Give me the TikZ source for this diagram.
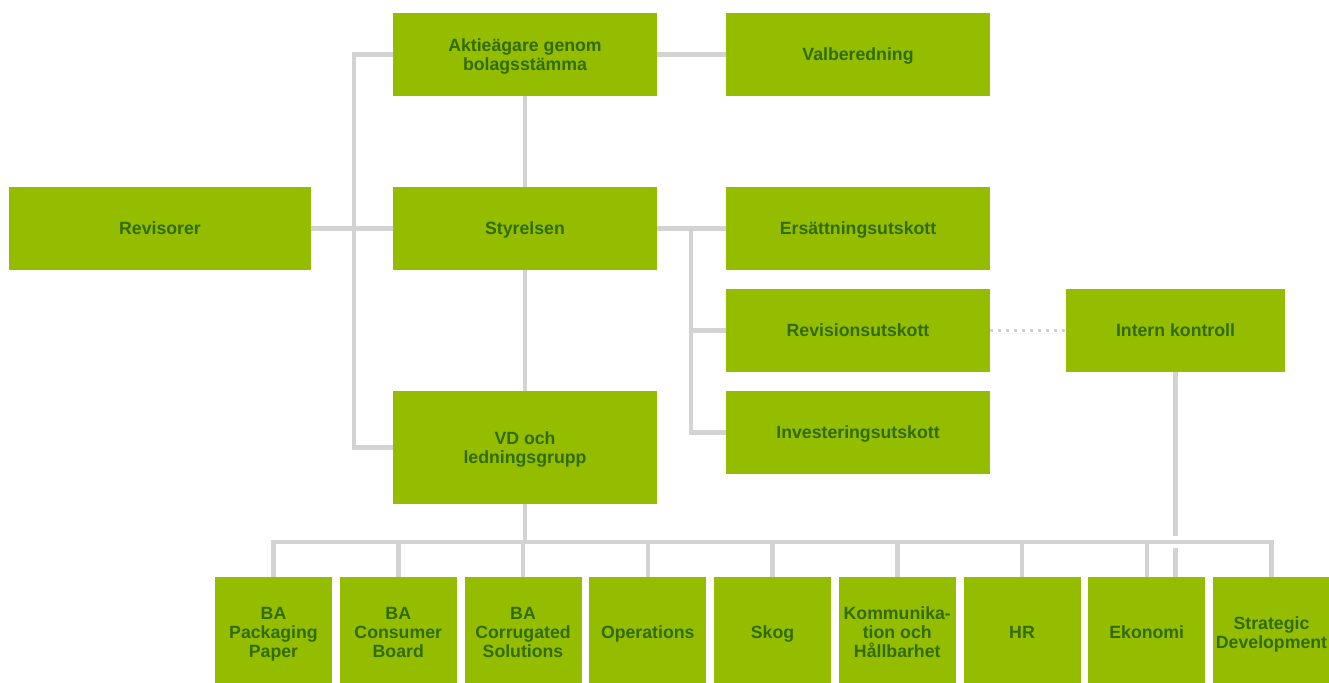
\documentclass[tikz,border=0pt]{standalone}
\usepackage{fontspec}
\setmainfont{Liberation Sans}
\usetikzlibrary{positioning,calc}
\definecolor{boxgreen}{RGB}{148,189,0}
\definecolor{textgreen}{RGB}{50,108,0}
\definecolor{linegray}{RGB}{211,211,211}

\begin{document}
\begin{tikzpicture}[x=1pt, y=-1pt, every text node part/.style={align=center},
  box/.style={fill=boxgreen, text=textgreen, font=\fontsize{17.7}{19}\selectfont\bfseries, inner sep=0pt, outer sep=0pt, text depth=-3pt, minimum width=264pt, minimum height=83pt},
  unit/.style={box, minimum width=117pt, minimum height=111pt},
  conn/.style={draw=linegray, line width=4.5pt},
  dots/.style={draw=linegray, line width=3pt, dash pattern=on 3pt off 5pt}]
 \useasboundingbox (0,0) rectangle (1329,682);

 \node[box](aktie) at (525,54.5) {Aktieägare genom\\bolagsstämma};
 \node[box](valberedning) at (858,54.5) {Valberedning};
 \node[box](styrelsen) at (525,228.5) {Styrelsen};
 \node[box, minimum width=302pt](revisorer) at (160,228.5) {Revisorer};
 \node[box, minimum height=113pt](vd) at (525,447.5) {VD och\\ledningsgrupp};

 \node[box](ersattning) at (858,228.5) {Ersättningsutskott};
 \node[box, below=19pt of ersattning](revision) {Revisionsutskott};
 \node[box, below=19pt of revision](investering) {Investeringsutskott};
 \node[box, minimum width=219pt](internkontroll) at (1175.5,330.5) {Intern kontroll};

 % bottom row, runs past the lower edge
 \node[unit](packaging) at (273.5,632.5) {BA\\Packaging\\Paper};
 \node[unit, right=7.75pt of packaging](consumer) {BA\\Consumer\\Board};
 \node[unit, right=7.75pt of consumer](corrugated) {BA\\Corrugated\\Solutions};
 \node[unit, right=7.75pt of corrugated](operations) {Operations};
 \node[unit, right=7.75pt of operations](skog) {Skog};
 \node[unit, right=7.75pt of skog](kommunikation) {Kommunika-\\tion och\\Hållbarhet};
 \node[unit, right=7.75pt of kommunikation](hr) {HR};
 \node[unit, right=7.75pt of hr](ekonomi) {Ekonomi};
 \node[unit, right=7.75pt of ekonomi](strategic) {Strategic\\Development};

 \coordinate (lspine) at (354,228.5);
 \coordinate (rspine) at (691,228.5);
 \coordinate (bus) at (525,542);

 \path[conn] (aktie) edge node {} (valberedning)
             (aktie) edge node {} (styrelsen)
             (styrelsen) edge node {} (vd)
             (revisorer) edge node {} (styrelsen)
             (styrelsen) edge node {} (ersattning)
             (vd) edge node {} (vd.south |- bus);
 \draw[conn] (aktie.west) -| (lspine) |- (vd.west);
 \draw[conn] (rspine) |- (investering.west);
 \draw[conn] (rspine |- revision) -- (revision.west);
 \path[dots] (revision) edge node {} (internkontroll);

 \draw[conn] (packaging.north) -- (packaging.north |- bus) -- (strategic.north |- bus) -- (strategic.north);
 \foreach \n in {consumer,corrugated,operations,skog,kommunikation,hr,ekonomi}
  \draw[conn] (\n.north) -- (\n.north |- bus);

 % crosses the bus without joining it
 \draw[conn] (internkontroll.south) -- ++(0,163.5);
 \draw[conn] (ekonomi.north -| internkontroll.south) -- ++(0,-29);
\end{tikzpicture}
\end{document}
